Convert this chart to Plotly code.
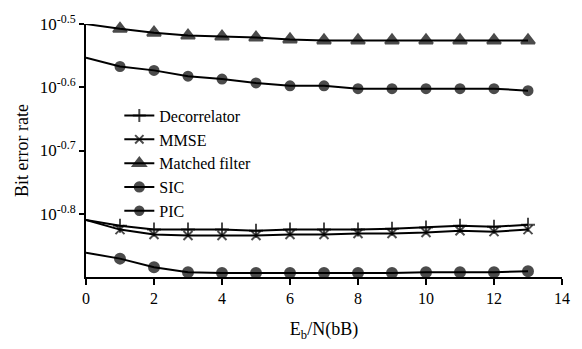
import plotly.graph_objects as go

# Eb/N (dB) sample points
snr_db = [0, 1, 2, 3, 4, 5, 6, 7, 8, 9, 10, 11, 12, 13]

# Bit error rate for each detector
ber_decorrelator = [0.1549, 0.1517, 0.1496, 0.1496, 0.1496, 0.1490, 0.1496,
                    0.1496, 0.1496, 0.1501, 0.1507, 0.1517, 0.1512, 0.1522]
ber_mmse = [0.1549, 0.1496, 0.1470, 0.1464, 0.1464, 0.1464, 0.1470,
            0.1470, 0.1475, 0.1475, 0.1480, 0.1490, 0.1485, 0.1496]
ber_matched = [0.3162, 0.3107, 0.3064, 0.3032, 0.3021, 0.3010, 0.2989,
               0.2979, 0.2979, 0.2979, 0.2979, 0.2979, 0.2979, 0.2979]
ber_sic = [0.1375, 0.1346, 0.1304, 0.1281, 0.1277, 0.1277, 0.1277,
           0.1277, 0.1277, 0.1277, 0.1281, 0.1281, 0.1281, 0.1286]
ber_pic = [0.2797, 0.2709, 0.2671, 0.2615, 0.2588, 0.2552, 0.2525,
           0.2525, 0.2499, 0.2499, 0.2499, 0.2499, 0.2499, 0.2481]

y_tick_vals = [10 ** -0.5, 10 ** -0.6, 10 ** -0.7, 10 ** -0.8]
y_tick_text = ["10<sup>-0.5</sup>", "10<sup>-0.6</sup>",
               "10<sup>-0.7</sup>", "10<sup>-0.8</sup>"]
x_tick_vals = [0, 2, 4, 6, 8, 10, 12, 14]

FONT = "Liberation Serif"

series = [
    ("Decorrelator", ber_decorrelator, "cross-thin", 10),
    ("MMSE", ber_mmse, "x-thin", 9),
    ("Matched filter", ber_matched, "triangle-up", 12),
    ("SIC", ber_sic, "circle", 10),
    ("PIC", ber_pic, "circle", 9),
]

fig = go.Figure()
for name, ys, sym, sz in series:
    # no marker drawn on the axis at 0 dB
    sizes = [0] + [sz] * (len(snr_db) - 1)
    fig.add_trace(go.Scatter(
        x=snr_db, y=ys, name=name, mode="lines+markers",
        line=dict(color="black", width=2),
        marker=dict(symbol=sym, size=sizes, color="black",
                    line=dict(color="black", width=2)),
        cliponaxis=False,
    ))

fig.update_layout(
    width=582, height=349,
    margin=dict(l=86, r=15, t=15, b=72),
    paper_bgcolor="white", plot_bgcolor="white",
    font=dict(family=FONT, color="black", size=16),
    showlegend=True,
    legend=dict(x=0.07, y=0.705, xanchor="left", yanchor="top",
                bgcolor="rgba(0,0,0,0)", font=dict(size=16, family=FONT),
                itemwidth=30, tracegroupgap=0),
)
fig.update_xaxes(
    range=[0, 14], tickvals=x_tick_vals, showgrid=False, zeroline=False,
    showline=True, linecolor="black", linewidth=2,
    ticks="outside", ticklen=6, tickwidth=2, tickcolor="black",
    tickfont=dict(size=16, family=FONT),
    title=dict(text="E<sub>b</sub>/N(bB)", font=dict(size=18, family=FONT),
               standoff=16),
)
fig.update_yaxes(
    type="log", range=[-0.9, -0.5], tickvals=y_tick_vals, ticktext=y_tick_text,
    showgrid=False, zeroline=False,
    showline=True, linecolor="black", linewidth=2,
    ticks="outside", ticklen=5, tickwidth=2, tickcolor="black",
    tickfont=dict(size=17, family=FONT),
    title=dict(text="Bit error rate", font=dict(size=18, family=FONT),
               standoff=6),
)

fig.write_html("out.html")
